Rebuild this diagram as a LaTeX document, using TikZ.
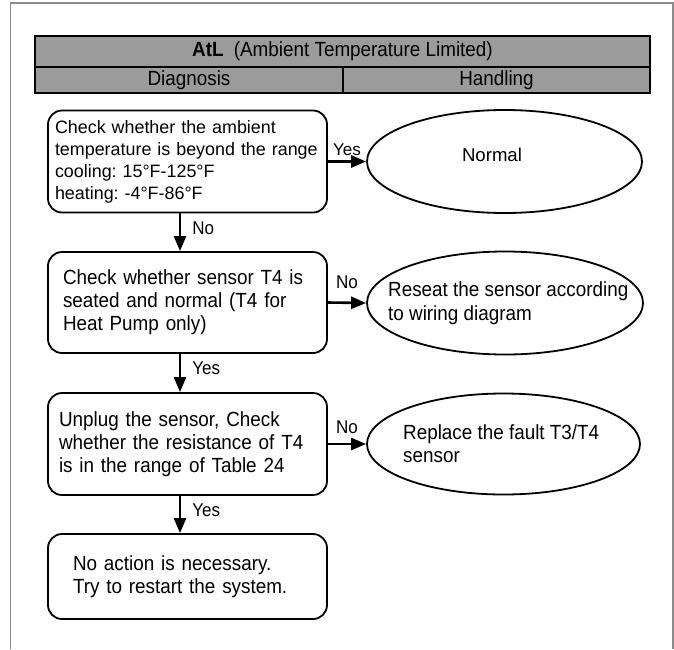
\documentclass[tikz,border=0pt]{standalone}
\usepackage{fontspec}
\setmainfont{Liberation Sans}
\newfontfamily\boschfont[FakeStretch=0.92]{Liberation Sans}
\usetikzlibrary{arrows.meta,shapes.geometric}
\definecolor{headgray}{RGB}{155,155,155}
\definecolor{framegray}{RGB}{140,140,140}
\frenchspacing

\begin{document}
\begin{tikzpicture}[x=1pt, y=-1pt,
  head/.style={draw, line width=1.6pt, fill=headgray, inner sep=0pt, font=\boschfont\fontsize{20.5}{24}\selectfont},
  box/.style={draw, line width=1.8pt, rounded corners=14pt, minimum width=279pt, inner ysep=0pt, align=left, font=\boschfont\fontsize{20.5}{23}\selectfont},
  oval/.style={draw, ellipse, line width=1.8pt, inner sep=0pt},
  ovaltxt/.style={inner sep=0pt, align=left, font=\boschfont\fontsize{20.5}{23.5}\selectfont},
  arr/.style={line width=2.6pt, -{Triangle[length=15pt, width=12pt]}},
  lbl/.style={inner sep=1pt, font=\boschfont\fontsize{18.5}{22}\selectfont}]
\useasboundingbox (0,0) rectangle (674,649);
% page frame
\draw[framegray, line width=1.2pt] (10.5,649) -- (10.5,3) -- (673,3) -- (673,649);
% Header
\node[head, minimum width=615pt, minimum height=31pt] (title) at (342.5,51.5) {\textbf{AtL}\enspace(Ambient Temperature Limited)};
\node[head, minimum width=308pt, minimum height=26pt] (diag) at (189,80) {Diagnosis};
\node[head, minimum width=307pt, minimum height=26pt] (handl) at (496.5,80) {Handling};
% Diagnosis steps
\node[box, text width=265pt, inner xsep=7pt, minimum height=102pt, font=\fontsize{17.9}{22}\selectfont] (b1) at (187.5,161.5)
  {Check whether the ambient\\temperature is beyond the range\\cooling: 15°F-125°F\\heating: -4°F-86°F};
\node[box, text width=249pt, inner xsep=15pt, minimum height=101pt] (b2) at (187.5,302.5)
  {Check whether sensor T4 is\\seated and normal (T4 for\\Heat Pump only)};
\node[box, text width=257pt, inner xsep=11pt, minimum height=102pt] (b3) at (187.5,444)
  {Unplug the sensor, Check\\whether the resistance of T4\\is in the range of Table 24};
\node[box, text width=229pt, inner xsep=25pt, minimum height=85pt] (b4) at (187.5,576.5)
  {No action is necessary.\\Try to restart the system.};
% Handling
\node[oval, minimum width=275pt, minimum height=103pt] (e1) at (504.5,161.5) {};
\node[inner sep=0pt, font=\fontsize{18.6}{22}\selectfont] (e1txt) at (492,155) {Normal};
\node[oval, minimum width=276pt, minimum height=103pt] (e2) at (505,303) {};
\node[ovaltxt, anchor=west] (e2txt) at (388,303) {Reseat the sensor according\\to wiring diagram};
\node[oval, minimum width=273pt, minimum height=101pt] (e3) at (503.5,444) {};
\node[ovaltxt, anchor=west] (e3txt) at (403,443.5) {Replace the fault T3/T4\\sensor};
% Connections
\draw[arr] (b1.east) -- node[lbl, above=4pt, font=\fontsize{17}{20}\selectfont] {Yes} (e1.west);
\draw[arr] ([xshift=-7.5pt]b1.south) -- node[lbl, right=10pt, yshift=4pt] {No} ([xshift=-7.5pt]b2.north);
\draw[arr] (b2.east) -- node[lbl, above=12pt] {No} (e2.west);
\draw[arr] ([xshift=-7.5pt]b2.south) -- node[lbl, right=10pt, yshift=5pt] {Yes} ([xshift=-7.5pt]b3.north);
\draw[arr] (b3.east) -- node[lbl, above=8pt] {No} (e3.west);
\draw[arr] ([xshift=-7.5pt]b3.south) -- node[lbl, right=10pt, yshift=4pt] {Yes} ([xshift=-7.5pt]b4.north);
\end{tikzpicture}
\end{document}
